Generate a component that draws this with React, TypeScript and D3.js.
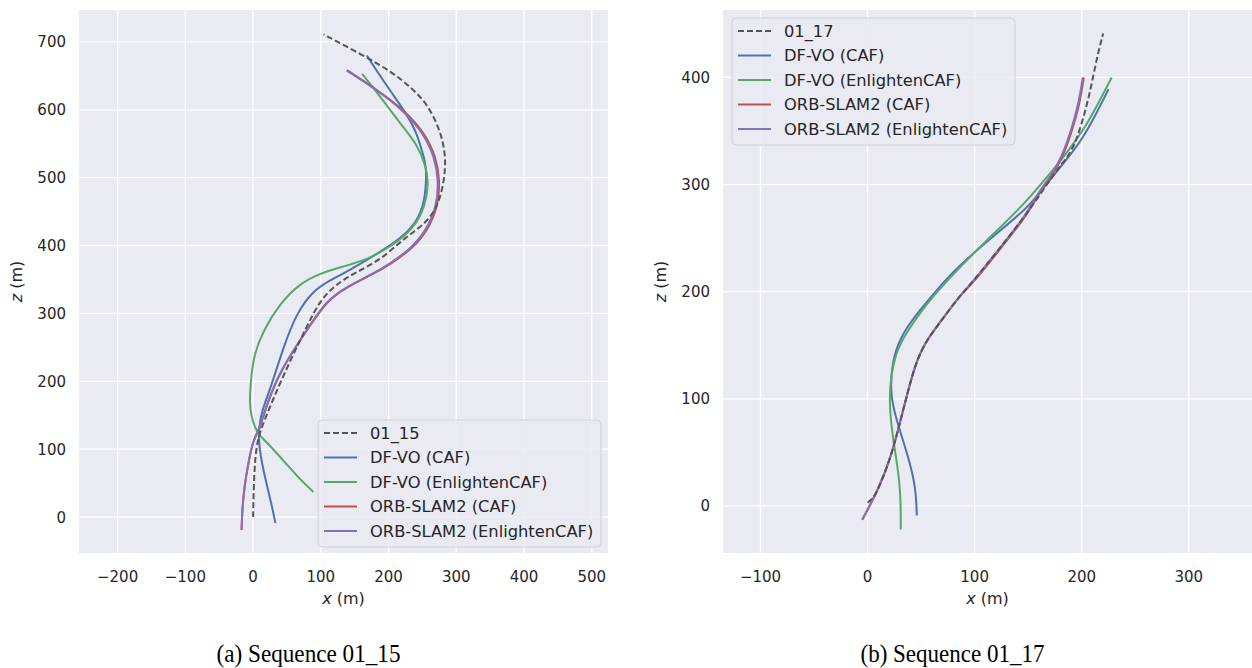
import React from "react";
import * as d3 from "d3";

type Pt = [number, number];

// Sequence 01_15 (x, z) in metres
const gt15: Pt[] = [
  [0, 0], [1, 45], [3, 90], [8, 118], [13, 133], [30, 175], [55, 231], [79, 280], [99, 320],
  [124, 344], [153, 361], [188, 379], [217, 405], [237, 420], [259, 437], [274, 462], [281, 491],
  [284, 516], [283, 540], [276, 570], [258, 608], [233, 633], [206, 655], [163, 680], [104, 711],
];
const dfCaf15: Pt[] = [
  [33, -9], [27, 20], [21, 44], [14, 75], [9, 103], [8, 131], [14, 160], [25, 187], [45, 251],
  [64, 300], [89, 334], [114, 349], [143, 364], [175, 383], [212, 406], [237, 428], [252, 457],
  [256, 496], [255, 521], [249, 540], [242, 565], [227, 594], [198, 634], [168, 680],
];
const dfEn15: Pt[] = [
  [89, 37], [70, 55], [53, 74], [35, 94], [21, 109], [8, 122], [3, 131], [-3, 150], [-5, 170],
  [-4, 192], [0, 236], [15, 275], [40, 315], [69, 344], [99, 359], [133, 369], [168, 379],
  [205, 399], [237, 425], [254, 457], [259, 491], [256, 515], [242, 550], [217, 580], [188, 619],
  [161, 653],
];
const orbCaf15: Pt[] = [
  [-17, -19], [-16, 10], [-13, 44], [-7, 80], [0, 113], [10, 131], [20, 165], [40, 216], [79, 275],
  [110, 320], [139, 339], [179, 359], [202, 372], [236, 396], [258, 423], [273, 457], [276, 496],
  [270, 530], [254, 565], [224, 599], [184, 629], [139, 658],
];
const orbEn15: Pt[] = [
  [-17, -19], [-16, 10], [-13, 44], [-7, 80], [0, 113], [10, 131], [20, 165], [40, 216], [79, 275],
  [109, 320], [138, 339], [178, 359], [200, 372], [234, 396], [256, 423], [271, 457], [274, 496],
  [268, 530], [252, 565], [222, 599], [183, 629], [138, 658],
];

// Sequence 01_17
const gt17: Pt[] = [
  [0, 3], [5, 7], [10, 15], [22, 46], [30, 77], [38, 108], [44, 130], [53, 152], [69, 173],
  [85, 195], [100, 211], [122, 239], [147, 270], [170, 304], [181, 319], [191, 331], [200, 356],
  [208, 387], [214, 418], [220, 441],
];
const dfCaf17: Pt[] = [
  [46, -9], [45, 18], [38, 46], [27, 80], [21, 104], [23, 136], [31, 158], [44, 177], [60, 196],
  [78, 217], [100, 237], [125, 258], [150, 279], [162, 294], [175, 310], [188, 326], [200, 342],
  [212, 363], [225, 389],
];
const dfEn17: Pt[] = [
  [31, -22], [31, 0], [30, 24], [24, 61], [19, 100], [25, 143], [38, 164], [53, 186], [72, 208],
  [100, 237], [125, 261], [147, 283], [158, 296], [172, 312], [187, 331], [203, 353], [215, 375],
  [228, 400],
];
const orbCaf17: Pt[] = [
  [-5, -13], [10, 15], [22, 46], [30, 77], [38, 108], [44, 130], [53, 152], [69, 173], [85, 195],
  [101, 211], [123, 239], [148, 270], [160, 292], [173, 309], [182, 325], [191, 350], [198, 375],
  [202, 400],
];
const orbEn17: Pt[] = [
  [-5, -13], [10, 15], [22, 46], [30, 77], [38, 108], [44, 130], [53, 152], [69, 173], [85, 195],
  [100, 211], [122, 239], [147, 270], [159, 292], [172, 309], [181, 325], [190, 350], [197, 375],
  [201, 400],
];

const methods = ["DF-VO (CAF)", "DF-VO (EnlightenCAF)", "ORB-SLAM2 (CAF)", "ORB-SLAM2 (EnlightenCAF)"];
const colors = ["#4C72B0", "#55A868", "#C44E52", "#8172B2"];
const xTicks15 = [-200, -100, 0, 100, 200, 300, 400, 500];
const zTicks15 = [0, 100, 200, 300, 400, 500, 600, 700];
const xTicks17 = [-100, 0, 100, 200, 300];
const zTicks17 = [0, 100, 200, 300, 400];

const FONT = "DejaVu Sans";
const TEXT = "#262626";
const GT_COLOR = "#555555";

interface PanelProps {
  left: number;
  width: number;
  xDomain: [number, number];
  zDomain: [number, number];
  xTicks: number[];
  zTicks: number[];
  gtName: string;
  series: Pt[][];
  legendX: number;
  legendY: number;
  caption: string;
}

const TOP = 10;
const BOTTOM = 553;

const Panel = ({ left, width, xDomain, zDomain, xTicks, zTicks, gtName, series, legendX, legendY, caption }: PanelProps) => {
  const x = d3.scaleLinear().domain(xDomain).range([left, left + width]);
  const y = d3.scaleLinear().domain(zDomain).range([BOTTOM, TOP]);
  const line = d3
    .line<Pt>()
    .x((d) => x(d[0]))
    .y((d) => y(d[1]))
    .curve(d3.curveBasis);
  const fmt = d3.format("d");
  const names = [gtName, ...methods];
  const rowH = 24.5;

  return (
    <g>
      <rect x={left} y={TOP} width={width} height={BOTTOM - TOP} fill="#EAEAF2" />
      {xTicks.map((t) => (
        <line key={"gx" + t} x1={x(t)} x2={x(t)} y1={TOP} y2={BOTTOM} stroke="#fff" strokeWidth={1.3} />
      ))}
      {zTicks.map((t) => (
        <line key={"gz" + t} x1={left} x2={left + width} y1={y(t)} y2={y(t)} stroke="#fff" strokeWidth={1.3} />
      ))}
      {/* trajectories */}
      {series.slice(1).map((s, i) => (
        <path key={"s" + i} d={line(s) ?? ""} fill="none" stroke={colors[i]} strokeWidth={2} />
      ))}
      <path d={line(series[0]) ?? ""} fill="none" stroke={GT_COLOR} strokeWidth={2} strokeDasharray="6,3" />

      {xTicks.map((t) => (
        <text key={"tx" + t} x={x(t)} y={582} textAnchor="middle" fontFamily={FONT} fontSize={15} fill={TEXT}>
          {t < 0 ? "\u2212" + fmt(-t) : fmt(t)}
        </text>
      ))}
      {zTicks.map((t) => (
        <text key={"tz" + t} x={left - 13} y={y(t) + 5.5} textAnchor="end" fontFamily={FONT} fontSize={15} fill={TEXT}>
          {fmt(t)}
        </text>
      ))}
      <text x={left + width / 2} y={604} textAnchor="middle" fontFamily={FONT} fontSize={16} fill={TEXT}>
        <tspan fontStyle="italic">x</tspan> (m)
      </text>
      <text
        transform={`translate(${left - 57},${(TOP + BOTTOM) / 2}) rotate(-90)`}
        textAnchor="middle"
        fontFamily={FONT}
        fontSize={16}
        fill={TEXT}
      >
        <tspan fontStyle="italic">z</tspan> (m)
      </text>

      {/* legend */}
      <g transform={`translate(${legendX},${legendY})`}>
        <rect x={0} y={0} width={283} height={127} rx={4} fill="#EAEAF2" fillOpacity={0.8} stroke="#D0D0D6" />
        {names.map((n, i) => (
          <g key={n} transform={`translate(0,${13 + i * rowH})`}>
            <line
              x1={6}
              x2={39}
              y1={0}
              y2={0}
              stroke={i === 0 ? GT_COLOR : colors[i - 1]}
              strokeWidth={2}
              strokeDasharray={i === 0 ? "6,3" : undefined}
            />
            <text x={52} y={5.8} fontFamily={FONT} fontSize={16.3} fill={TEXT}>
              {n}
            </text>
          </g>
        ))}
      </g>

      <text
        x={left + width / 2 - 35}
        y={662}
        textAnchor="middle"
        fontFamily="Liberation Serif"
        fontSize={25}
        fill="#000"
        textLength={184}
        lengthAdjust="spacingAndGlyphs"
      >
        {caption}
      </text>
    </g>
  );
};

const App = () => {
  return (
    <svg
      width={1252}
      height={668}
      viewBox="0 0 1252 668"
      style={{ position: "absolute", left: 0, top: 0, background: "#fff" }}
    >
      <Panel
        left={79}
        width={529}
        xDomain={[-257, 524]}
        zDomain={[-53, 747]}
        xTicks={xTicks15}
        zTicks={zTicks15}
        gtName="01_15"
        series={[gt15, dfCaf15, dfEn15, orbCaf15, orbEn15]}
        legendX={318}
        legendY={420}
        caption="(a) Sequence 01_15"
      />
      <Panel
        left={723}
        width={529}
        xDomain={[-135, 359]}
        zDomain={[-44, 463]}
        xTicks={xTicks17}
        zTicks={zTicks17}
        gtName="01_17"
        series={[gt17, dfCaf17, dfEn17, orbCaf17, orbEn17]}
        legendX={732}
        legendY={18}
        caption="(b) Sequence 01_17"
      />
    </svg>
  );
};

export default App;
